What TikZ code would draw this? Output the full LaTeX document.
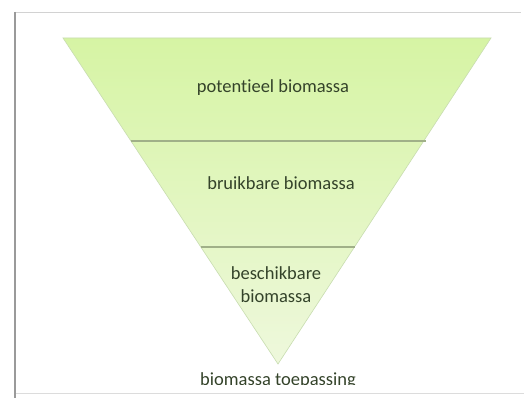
\documentclass[tikz,border=0pt]{standalone}
\usepackage{fontspec}
\setmainfont{Carlito}[Ligatures=NoCommon]
\definecolor{topgreen}{HTML}{D6F4A4}
\definecolor{botgreen}{HTML}{EEF8DC}
\definecolor{sepline}{HTML}{A0B088}
\definecolor{edgecol}{HTML}{C8DDB0}
\definecolor{txtcol}{HTML}{34432A}
\definecolor{framecol}{HTML}{9A9A9A}
\tikzset{
  lbl/.style={font=\fontsize{18.5}{23}\selectfont, text=txtcol, align=center, inner sep=0pt},
  sepl/.style={draw=sepline, line width=2pt},
}
\begin{document}
\begin{tikzpicture}[x=1pt,y=-1pt]
\useasboundingbox (0,0) rectangle (524,398);
\fill[white] (0,0) rectangle (524,398);
% triangle
\coordinate (tl) at (63,38);
\coordinate (tr) at (491,38);
\coordinate (ap) at (278,364);
\shade[top color=topgreen, bottom color=botgreen] (tl) -- (tr) -- (ap) -- cycle;
\draw[draw=edgecol, line width=0.6pt] (tl) -- (tr) -- (ap) -- cycle;
% separators
\coordinate (s1l) at (131,141);
\coordinate (s1r) at (426,141);
\coordinate (s2l) at (201,247);
\coordinate (s2r) at (355,247);
\draw[sepl] (s1l) -- (s1r);
\draw[sepl] (s2l) -- (s2r);
% labels
\node[lbl] (pot) at (273,88) {potentieel biomassa};
\node[lbl] (bru) at (281,183) {bruikbare biomassa};
\node[lbl] (bes) at (276,285) {beschikbare\\biomassa};
\begin{scope}
\clip (0,360) rectangle (524,385);
\node[lbl, anchor=base] (toe) at (278,385.5) {biomassa toepassing};
\end{scope}
% frame
\fill[white] (15,385) rectangle (524,398);
\draw[draw=framecol!45, line width=0.8pt] (15,12) -- (521,12);
\draw[draw=framecol!35, line width=1pt] (15,393) -- (524,393);
\draw[draw=framecol, line width=2.2pt] (15,12) -- (15,398);
\end{tikzpicture}
\end{document}
